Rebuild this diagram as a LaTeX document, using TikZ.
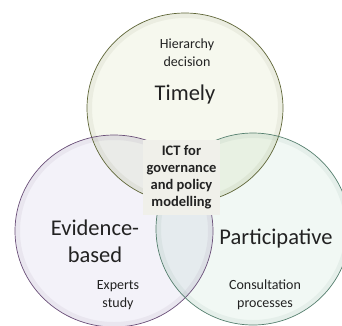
\documentclass[tikz,border=0pt]{standalone}
\usepackage{fontspec}
\setmainfont{Carlito}
\usetikzlibrary{positioning}

\definecolor{timelyfill}{HTML}{F6F8EE}
\definecolor{timelyline}{HTML}{5F6638}
\definecolor{evidfill}{HTML}{F3F2F9}
\definecolor{evidline}{HTML}{6A4F78}
\definecolor{partfill}{HTML}{F1F8F4}
\definecolor{partline}{HTML}{557F6E}
\definecolor{corefill}{HTML}{F0F0EA}
\definecolor{inktext}{HTML}{222222}

\begin{document}
\begin{tikzpicture}[x=1pt,y=-1pt,
      big/.style={font=\fontsize{22.5}{27}\selectfont,text=inktext,align=center,inner sep=0pt},
      small/.style={font=\fontsize{14}{18}\selectfont,text=inktext,align=center,inner sep=0pt},
      core/.style={fill=corefill,font=\bfseries\fontsize{14.5}{17}\selectfont,text=inktext,
        align=center,minimum width=77pt,minimum height=75pt,inner sep=0pt},
      rim/.style={line width=0.7pt,draw=#1},
      glow/.style={line width=5pt,draw=#1,draw opacity=0.07}]

      \useasboundingbox (0,0) rectangle (342,325);
      \clip (0,0) rectangle (342,325);

      % the three sets
      \begin{scope}[blend mode=multiply]
        \fill[timelyfill] (185,108) ellipse [x radius=98, y radius=95];
        \fill[evidfill]   (114,231) ellipse [x radius=99, y radius=96];
        \fill[partfill]   (253,229) ellipse [x radius=97, y radius=96];
      \end{scope}

      \draw[glow=timelyline] (185,108) ellipse [x radius=95.5, y radius=92.5];
      \draw[glow=evidline]   (114,231) ellipse [x radius=96.5, y radius=93.5];
      \draw[glow=partline]   (253,229) ellipse [x radius=94.5, y radius=93.5];

      \draw[rim=timelyline] (185,108) ellipse [x radius=98, y radius=95];
      \draw[rim=evidline]   (114,231) ellipse [x radius=99, y radius=96];
      \draw[rim=partline]   (253,229) ellipse [x radius=97, y radius=96];

      % labels
      \node[big]   (timely)  at (185,94)  {Timely};
      \node[small] (hier)    at (187,53)  {Hierarchy\\decision};
      \node[big]   (evid)    at (95,241)  {Evidence-\\based};
      \node[small] (experts) at (118,295) {Experts\\study};
      \node[big]   (part)    at (276,239) {Participative};
      \node[small] (consult) at (265,295) {Consultation\\processes};

      \node[core]  (ict)     at (181.5,177.5) {ICT for\\governance\\and policy\\modelling};
    \end{tikzpicture}
\end{document}
